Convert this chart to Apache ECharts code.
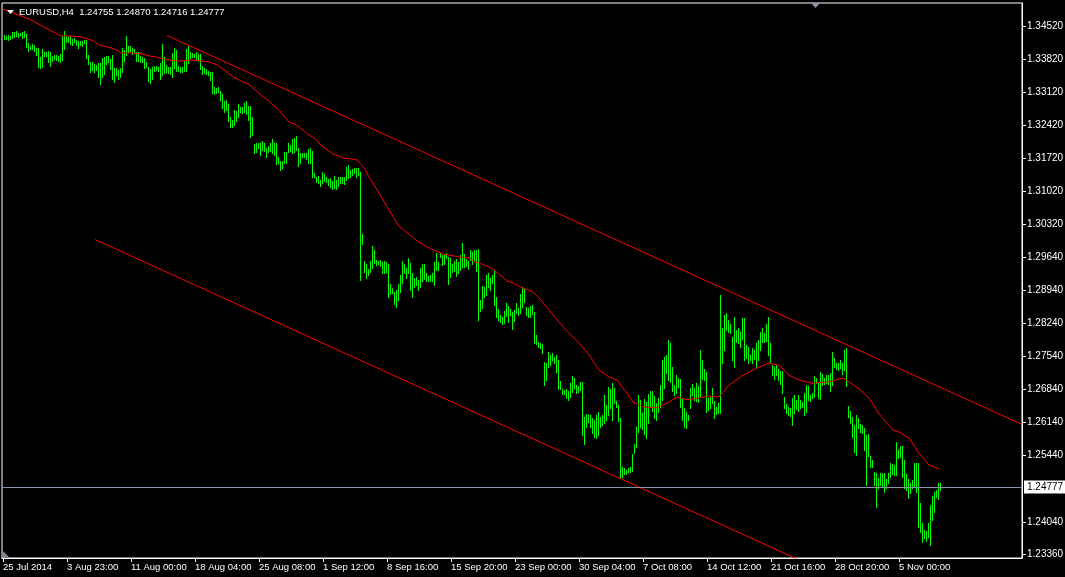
<!DOCTYPE html>
<html><head><meta charset="utf-8">
<script src="https://cdn.jsdelivr.net/npm/echarts@6/dist/echarts.min.js"></script>
<style>html,body{margin:0;padding:0;background:#000;}#c{width:1065px;height:577px;}</style>
</head><body><div id="c"></div>
<script>
// ---- data (prices in 0.0001 units) ----
const symbolInfo = 'EURUSD,H4  1.24755 1.24870 1.24716 1.24777';
const highs = [
13433,13431,13433,13431,13439,13439,13441,13437,13437,13439,
13441,13435,13416,13410,13414,13412,13405,13405,13387,13403,
13397,13397,13399,13397,13389,13391,13391,13389,13393,13431,
13441,13431,13429,13431,13425,13427,13422,13420,13420,13420,
13422,13422,13391,13376,13376,13372,13370,13374,13374,13384,
13386,13388,13388,13382,13391,13363,13363,13359,13363,13405,
13401,13431,13410,13410,13405,13403,13397,13397,13389,13386,
13384,13376,13365,13361,13365,13367,13367,13365,
13374,13414,13386,13370,13365,13365,13395,13405,13401,13367,
13365,13365,13378,13403,13410,13397,13395,13393,13397,13393,
13393,13367,13363,13361,13357,13355,13355,13323,13321,13323,
13315,13308,13294,13296,13287,13260,13253,13274,13272,13287,
13281,13281,13289,13294,13283,13283,13260,13203,13205,13205,
13205,13209,13205,13194,13198,13205,13213,13205,13205,13175,
13167,13167,13186,13186,13205,13200,13213,13215,13220,13194,
13184,13184,13184,13184,13192,13194,13188,13141,13133,13135,
13127,13143,13139,13133,13129,13131,13124,13135,13127,13133,
13133,13133,13133,13154,13158,13148,13150,13152,13152,13152,
13143,13012,12955,12949,12938,12955,12987,12979,12957,12955,
12957,12953,12955,12953,12949,12907,12898,12890,12894,12907,
12926,12955,12949,12941,12962,12951,12930,12919,12921,12915,
12941,12949,12949,12930,12924,12926,12930,12953,12972,12953,
12972,12968,12970,12972,12964,12962,12949,12955,12960,12953,
12968,12993,12970,12960,12955,12979,12974,12979,12979,12981,
12873,12902,12900,12926,12930,12919,12926,12936,12879,12854,
12841,12837,12850,12867,12860,12854,12848,12852,12867,12856,
12886,12900,12896,12858,12856,12860,12862,12848,12799,12784,
12782,12780,12742,12740,12763,12757,12761,12753,12757,12746,
12702,12685,12683,12685,12681,12697,12712,12708,12693,12691,
12700,12700,12626,12632,12632,12630,12623,12619,12630,12636,
12626,12630,12672,12651,12689,12685,12697,12687,12659,12651,
12623,12520,12518,12514,12518,12520,12547,12569,12604,12672,
12662,12634,12664,12657,12674,12681,12681,12670,12655,12666,
12693,12746,12753,12757,12788,12782,12731,12693,12714,12708,
12706,12666,12645,12636,12630,12687,12695,12687,12697,12691,
12767,12746,12727,12721,12666,12668,12687,12659,12647,12655,
12883,12814,12841,12845,12831,12822,12795,12837,12809,12814,
12805,12835,12835,12778,12774,12757,12772,12767,12782,12788,
12805,12814,12803,12822,12837,12782,12735,12731,12735,12727,
12723,12723,12668,12653,12647,12645,12666,12672,12662,12672,
12662,12657,12676,12693,12691,12672,12676,12712,12708,12700,
12721,12717,12708,12714,12714,12719,12763,12750,12740,12740,
12746,12740,12767,12771,12649,12638,12626,12609,12630,12623,
12611,12609,12602,12588,12590,12543,12535,12509,12507,12497,
12507,12507,12507,12495,12507,12528,12526,12524,12573,12556,
12565,12565,12535,12505,12495,12486,12492,12528,12528,12528,
12444,12402,12387,12385,12402,12440,12459,12467,12471,12486,12487
];
const lows = [
13425,13425,13422,13425,13427,13429,13431,13429,13433,13427,
13429,13408,13399,13403,13403,13399,13391,13365,13363,13365,
13389,13389,13376,13367,13378,13382,13380,13378,13376,13380,
13403,13418,13418,13414,13412,13418,13412,13405,13412,13410,
13416,13384,13372,13355,13359,13355,13359,13344,13329,13344,
13351,13372,13376,13361,13340,13334,13348,13340,13344,13355,
13378,13391,13397,13399,13393,13395,13378,13378,13376,13376,
13363,13365,13336,13332,13340,13357,13359,13357,
13340,13348,13353,13355,13353,13351,13344,13363,13357,13357,
13355,13355,13357,13357,13374,13384,13386,13386,13382,13378,
13361,13351,13353,13351,13348,13338,13311,13308,13311,13313,
13296,13279,13270,13274,13251,13239,13239,13243,13251,13260,
13270,13268,13270,13266,13253,13217,13222,13184,13186,13194,
13179,13190,13188,13175,13186,13188,13184,13179,13160,13162,
13148,13152,13162,13162,13186,13188,13184,13186,13190,13156,
13162,13175,13175,13171,13162,13162,13133,13133,13122,13120,
13114,13120,13124,13122,13116,13112,13107,13110,13107,13114,
13120,13120,13118,13127,13131,13133,13137,13141,13133,13137,
12915,12991,12932,12919,12926,12932,12941,12951,12947,12949,
12945,12930,12930,12932,12879,12886,12888,12864,12858,12873,
12890,12909,12930,12919,12930,12894,12879,12900,12905,12894,
12900,12913,12917,12913,12913,12913,12913,12905,12936,12936,
12964,12947,12949,12962,12907,12921,12932,12934,12924,12930,
12936,12943,12943,12945,12938,12957,12949,12957,12934,12831,
12850,12856,12879,12883,12900,12894,12909,12862,12837,12831,
12826,12822,12824,12839,12826,12841,12812,12828,12845,12841,
12845,12858,12869,12841,12837,12837,12843,12782,12780,12774,
12772,12761,12693,12704,12731,12735,12746,12740,12721,12685,
12685,12674,12674,12666,12662,12668,12678,12687,12676,12678,
12683,12588,12569,12604,12615,12604,12592,12583,12581,12588,
12604,12609,12613,12619,12630,12645,12619,12655,12647,12617,
12497,12499,12505,12505,12509,12509,12511,12549,12562,12594,
12604,12600,12590,12581,12613,12647,12638,12623,12619,12636,
12647,12662,12687,12719,12704,12700,12681,12672,12676,12689,
12647,12619,12604,12602,12619,12645,12672,12662,12659,12657,
12668,12706,12704,12636,12640,12645,12655,12623,12632,12634,
12634,12740,12767,12809,12805,12803,12746,12731,12784,12782,
12774,12790,12746,12750,12740,12746,12740,12748,12729,12746,
12767,12784,12784,12786,12757,12742,12714,12706,12714,12704,
12695,12676,12645,12634,12630,12628,12609,12634,12643,12638,
12645,12647,12630,12636,12662,12659,12666,12668,12697,12666,
12664,12693,12695,12697,12695,12681,12693,12731,12727,12725,
12729,12716,12725,12691,12626,12613,12583,12552,12545,12602,
12594,12592,12556,12482,12543,12520,12520,12482,12435,12476,
12482,12478,12467,12476,12486,12499,12505,12503,12503,12539,
12541,12499,12476,12471,12454,12465,12476,12478,12467,12393,
12383,12361,12370,12364,12372,12355,12408,12425,12456,12452,12472
];
const maIndex = [0,5,14,20,25,29,34,39,45,48,53,57,59,64,70,73,77,78,83,88,95,99,103,107,110,114,117,120,123,125,128,130,133,135,138,140,143,146,148,150,153,157,158,160,163,165,168,170,173,177,179,181,183,188,193,198,203,208,213,215,220,223,228,233,236,238,243,245,250,252,255,260,265,269,273,278,283,288,293,298,303,307,312,315,320,327,332,337,342,348,353,358,363,370,378,383,388,393,398,404,413,420,423,428,433,438,445,448,453,458,463,468];
const maValues = [13488,13480,13465,13451,13440,13431,13431,13429,13421,13412,13407,13401,13395,13395,13393,13389,13386,13384,13380,13378,13380,13378,13376,13370,13361,13348,13340,13334,13329,13321,13310,13302,13294,13285,13274,13264,13249,13245,13239,13232,13222,13211,13205,13196,13188,13181,13177,13173,13172,13169,13160,13148,13133,13099,13063,13029,13012,12995,12983,12979,12970,12968,12964,12962,12953,12951,12943,12938,12921,12913,12909,12898,12890,12873,12852,12826,12803,12782,12757,12725,12710,12704,12676,12657,12647,12645,12655,12668,12662,12666,12670,12668,12693,12714,12731,12740,12735,12714,12704,12697,12700,12708,12700,12685,12666,12632,12598,12594,12581,12549,12524,12516];
const upperChannel = [[82, 1.34320], [509, 1.26108]];
const lowerChannel = [[46, 1.30008], [509, 1.21100]];
const priceTicks = [1.34520,1.33820,1.33120,1.32420,1.31720,1.31020,1.30320,1.29640,1.28940,1.28240,1.27540,1.26840,1.26140,1.25440,1.24040,1.23360];
const dateLabels = ['25 Jul 2014','3 Aug 23:00','11 Aug 00:00','18 Aug 04:00','25 Aug 08:00','1 Sep 12:00','8 Sep 16:00','15 Sep 20:00','23 Sep 00:00','30 Sep 04:00','7 Oct 08:00','14 Oct 12:00','21 Oct 16:00','28 Oct 20:00','5 Nov 00:00'];
const dateLabelStep = 32;
const currentPrice = 1.24777;
const totalSlots = 510;
const yMin = 1.23276, yMax = 1.35007;

// ---- chart ----
const FONT = "'Liberation Sans',Arial,sans-serif";
const chart = echarts.init(document.getElementById('c'), null, {renderer: 'canvas'});
const cats = Array.from({length: totalSlots}, (_, i) => String(i));
const showTick = (idx) => idx % dateLabelStep === 0 && idx / dateLabelStep < dateLabels.length;
const barData = highs.map((h, i) => [i, h / 1e4, lows[i] / 1e4]);
const maData = maIndex.map((i, k) => [i, maValues[k] / 1e4]);

chart.setOption({
  animation: false,
  backgroundColor: '#000000',
  title: {
    text: symbolInfo, left: 19, top: 7, padding: 0,
    textStyle: {color: '#ffffff', fontSize: 9.5, fontWeight: 'normal', fontFamily: FONT}
  },
  graphic: [
    {type: 'polygon', shape: {points: [[7, 10], [14, 10], [10.5, 14]]}, style: {fill: '#ffffff'}, z: 10},
    {type: 'polygon', shape: {points: [[811, 3], [820, 3], [815.5, 8]]}, style: {fill: '#8a94a6'}},
    {type: 'polygon', shape: {points: [[3, 551], [3, 557], [9, 557]]}, style: {fill: '#7a8699'}}
  ],
  grid: {left: 2, top: 3, width: 1020, height: 555, show: true, borderColor: '#ffffff', borderWidth: 1,
    containLabel: false, outerBoundsMode: 'none'},
  xAxis: {
    type: 'category', data: cats, boundaryGap: true,
    axisLine: {show: true, lineStyle: {color: '#ffffff', width: 1}},
    axisTick: {show: true, interval: showTick, alignWithLabel: true, length: 4, lineStyle: {color: '#ffffff'}},
    axisLabel: {
      interval: showTick, color: '#ffffff', fontSize: 9.5, fontFamily: FONT, align: 'left', margin: 4,
      formatter: (v, idx) => dateLabels[Math.round(idx / dateLabelStep)] || ''
    },
    splitLine: {show: false}
  },
  yAxis: {
    type: 'value', position: 'right', min: yMin, max: yMax, scale: true,
    axisLine: {show: true, lineStyle: {color: '#ffffff', width: 1}},
    axisTick: {show: true, customValues: priceTicks, length: 4, lineStyle: {color: '#ffffff'}},
    axisLabel: {customValues: priceTicks, color: '#ffffff', fontSize: 10, fontFamily: FONT, margin: 5,
      formatter: (v) => v.toFixed(5)},
    splitLine: {show: false}
  },
  series: [
    {
      type: 'custom', name: 'bars', data: barData, encode: {x: 0, y: [1, 2]}, clip: true,
      renderItem: function (params, api) {
        const i = api.value(0);
        const hi = api.coord([i, api.value(1)]);
        const lo = api.coord([i, api.value(2)]);
        const x = Math.round(hi[0]) + 1;
        const y1 = Math.round(hi[1]);
        const y2 = Math.round(lo[1]);
        return {type: 'rect', shape: {x: x, y: y1, width: 1, height: Math.max(1, y2 - y1 + 1)},
          style: {fill: '#00ff00'}};
      }
    },
    {
      type: 'line', name: 'MA', data: maData, showSymbol: false, symbol: 'none', clip: true,
      lineStyle: {color: '#ff0000', width: 1}, z: 3,
      markLine: {
        silent: true, symbol: 'none', animation: false, precision: 5,
        lineStyle: {color: '#8796ab', type: 'solid', width: 1},
        label: {position: 'end', distance: 2, formatter: currentPrice.toFixed(5), color: '#000000',
          backgroundColor: '#ffffff', padding: [2, 3, 1, 3], fontSize: 10, fontFamily: FONT},
        data: [{yAxis: currentPrice}]
      }
    },
    {type: 'line', name: 'upper', data: upperChannel, showSymbol: false, symbol: 'none', clip: true,
      lineStyle: {color: '#ff0000', width: 1}, z: 3},
    {type: 'line', name: 'lower', data: lowerChannel, showSymbol: false, symbol: 'none', clip: true,
      lineStyle: {color: '#ff0000', width: 1}, z: 3}
  ]
});
</script>
</body></html>
